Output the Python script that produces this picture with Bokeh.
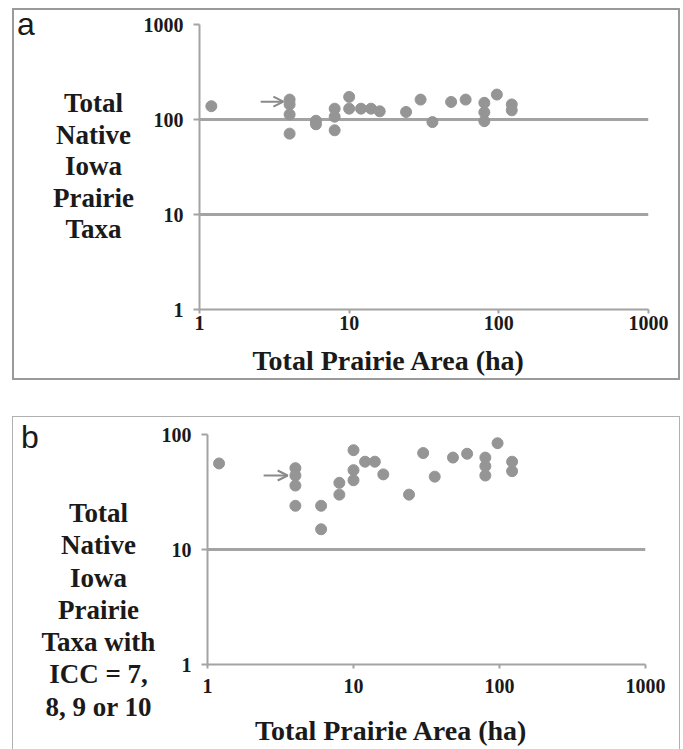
from bokeh.plotting import figure
from bokeh.models import Arrow, OpenHead, FixedTicker, NumeralTickFormatter, Div
from bokeh.layouts import column, row
from bokeh.embed import file_html
from bokeh.resources import INLINE

# ---- data ----
area_a = [1.2, 4, 4, 4, 4, 6, 6, 8, 8, 8, 10, 10, 12, 14, 16, 24, 30, 36, 48, 60, 80, 80, 80, 97, 122, 122]
taxa_a = [138, 162, 144, 113, 71, 97, 89, 130, 107, 77, 173, 130, 130, 130, 122, 120, 162, 94, 153, 162, 150, 119, 96, 183, 144, 125]

area_b = [1.2, 4, 4, 4, 4, 6, 6, 8, 8, 10, 10, 10, 12, 14, 16, 24, 30, 36, 48, 60, 80, 80, 80, 97, 122, 122]
taxa_b = [56, 51, 44, 36, 24, 24, 15, 38, 30, 73, 49, 40, 58, 58, 45, 30, 69, 43, 63, 68, 63, 53, 44, 84, 58, 48]

x_ticks = [1, 10, 100, 1000]
y_ticks_a = [1, 10, 100, 1000]
y_ticks_b = [1, 10, 100]

ylabel_a = ["Total", "Native", "Iowa", "Prairie", "Taxa"]
ylabel_b = ["Total", "Native", "Iowa", "Prairie", "Taxa with", "ICC = 7,", "8, 9 or 10"]
xlabel = "Total Prairie Area (ha)"

# arrow targets (site marked with an arrow)
arrow_a = (4, 154)
arrow_b = (4, 44)

GRAY = "#a3a3a3"
PT = "#959595"
SERIF = "Liberation Serif"
INK = "#1a1a1a"
# trailing padding shifts the centred axis title to the left, as in the original
XLABEL_PAD = "\u2002" * 4 + "\u00a0" * 2


def style(p, yticks, xl_standoff, tick_standoff):
    p.xaxis.ticker = FixedTicker(ticks=x_ticks)
    p.yaxis.ticker = FixedTicker(ticks=yticks)
    p.xaxis.formatter = NumeralTickFormatter(format="0")
    p.yaxis.formatter = NumeralTickFormatter(format="0")
    p.xgrid.visible = False
    p.ygrid.ticker = FixedTicker(ticks=yticks)
    p.ygrid.grid_line_color = GRAY
    p.ygrid.grid_line_width = 3
    for ax in (p.xaxis, p.yaxis):
        ax.axis_line_color = GRAY
        ax.axis_line_width = 2
        ax.major_tick_line_color = GRAY
        ax.major_tick_line_width = 2
        ax.minor_tick_line_color = None
        ax.major_tick_in = 0
        ax.major_label_text_font = SERIF
        ax.major_label_text_font_style = "bold"
        ax.major_label_text_font_size = "20px"
        ax.major_label_text_color = INK
    p.xaxis.major_tick_out = 4
    p.yaxis.major_tick_out = 6
    p.yaxis.major_label_standoff = 10
    p.xaxis.major_label_standoff = tick_standoff
    p.xaxis.axis_label = xlabel + XLABEL_PAD
    p.xaxis.axis_label_text_font = SERIF
    p.xaxis.axis_label_text_font_style = "bold"
    p.xaxis.axis_label_text_font_size = "28px"
    p.xaxis.axis_label_text_color = INK
    p.xaxis.axis_label_standoff = xl_standoff
    p.outline_line_color = None
    p.border_fill_color = None
    p.frame_align = False


def make_div(letter, lines, width, height, box_w, top, lh, letter_left, letter_top):
    html = (
        f'<div style="position:relative;width:{width}px;height:{height}px;">'
        f'<div style="position:absolute;left:{letter_left}px;top:{letter_top}px;'
        f'font-family:\'Liberation Sans\';font-size:32px;line-height:1;color:{INK};">{letter}</div>'
        f'<div style="position:absolute;left:0px;top:{top}px;width:{box_w}px;text-align:center;'
        f'white-space:nowrap;font-family:\'Liberation Serif\';font-weight:bold;font-size:27px;'
        f'line-height:{lh}px;color:{INK};">' + "<br>".join(lines) + '</div></div>'
    )
    return Div(text=html, width=width, height=height, margin=0)


# ---- panel a ----
pa = figure(width=538, height=368, x_axis_type="log", y_axis_type="log",
            x_range=(1, 1000), y_range=(1, 1000),
            output_backend="svg", toolbar_location=None,
            min_border_left=57, min_border_right=30, min_border_top=14, min_border_bottom=68,
            margin=0)
style(pa, y_ticks_a, 12, 2)
pa.scatter(area_a, taxa_a, size=11, color=PT)
pa.add_layout(Arrow(end=OpenHead(size=10, line_color="#8a8a8a", line_width=2),
                    x_start=arrow_a[0] / 1.56, y_start=arrow_a[1],
                    x_end=arrow_a[0] / 1.1, y_end=arrow_a[1],
                    line_color="#8a8a8a", line_width=2))
div_a = make_div("a", ylabel_a, 126, 368, 159, 78, 31.6, 3, -2)
panel_a = row(div_a, pa, margin=(8, 0, 0, 12),
              styles={"border": "2px solid #9a9a9a", "background": "white"})

# ---- panel b ----
pb = figure(width=526, height=332, x_axis_type="log", y_axis_type="log",
            x_range=(1, 1000), y_range=(1, 100),
            output_backend="svg", toolbar_location=None,
            min_border_left=54, min_border_right=34, min_border_top=17, min_border_bottom=85,
            margin=0)
style(pb, y_ticks_b, 19, 10)
pb.scatter(area_b, taxa_b, size=11, color=PT)
pb.add_layout(Arrow(end=OpenHead(size=10, line_color="#8a8a8a", line_width=2),
                    x_start=arrow_b[0] / 1.65, y_start=arrow_b[1],
                    x_end=arrow_b[0] / 1.13, y_end=arrow_b[1],
                    line_color="#8a8a8a", line_width=2))
div_b = make_div("b", ylabel_b, 140, 332, 171, 80, 32.3, 8, 4)
panel_b = row(div_b, pb, margin=(36, 0, 0, 12),
              styles={"border": "1px solid #b0b0b0", "background": "white"})

layout = column(panel_a, panel_b)
open("out.html", "w").write(file_html(layout, INLINE))
